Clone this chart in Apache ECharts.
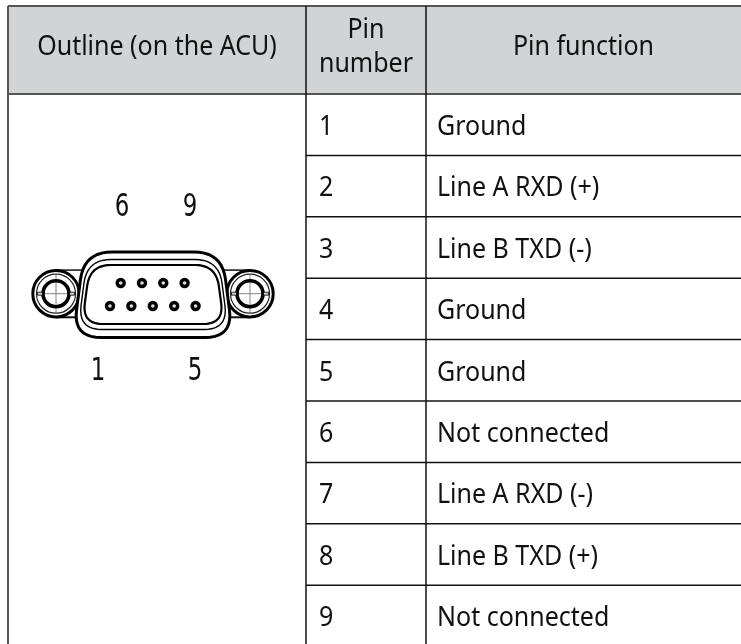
<!DOCTYPE html>
<html>
<head>
<meta charset="utf-8">
<style>
    html, body { margin: 0; padding: 0; background: #fff; }
    #chart { width: 741px; height: 644px; }
</style>
<script src="https://cdn.jsdelivr.net/npm/echarts@6/dist/echarts.min.js"></script>
</head>
<body>
<div id="chart"></div>
<script>
// table content
const headers = ['Outline (on the ACU)', 'Pin\nnumber', 'Pin function']
const pinNumbers = ['1', '2', '3', '4', '5', '6', '7', '8', '9']
const pinFunctions = [
    'Ground',
    'Line A RXD (+)',
    'Line B TXD (-)',
    'Ground',
    'Ground',
    'Not connected',
    'Line A RXD (-)',
    'Line B TXD (+)',
    'Not connected',
]
const outlineLabels = ['6', '9', '1', '5']

// layout, the axes run in picture units
const width = 741,
    height = 644,
    colX = [8, 306, 426, 741],
    topY = 6,
    headY = 94,
    rowH = 61.4
const font = '25px "Noto Sans"'
const lineColor = '#111',
    edgeColor = '#555',
    textColor = '#111'

// connector, symmetric around centerX
const centerX = 153,
    earY = 293.7,
    earDx = 97
const shells = [
    { top: 252, bottom: 337.5, topDx: 69, bottomDx: 80, r: 28, w: 3 },
    { top: 259.5, bottom: 329.5, topDx: 66, bottomDx: 75, r: 24, w: 1.4 },
    { top: 265, bottom: 324, topDx: 63, bottomDx: 71, r: 21, w: 2.2 },
]

const pinPos = (n) => (n <= 5 ? [110 + (n - 1) * 21.4, 306] : [120.7 + (n - 6) * 21.3, 283])
const labelPos = { 6: [122, 208], 9: [190, 208], 1: [98, 372], 5: [195, 372] }

// rounded polygon as plain points
const roundedPoints = (verts, r) => {
    const points = []
    verts.forEach((v, i) => {
        const prev = verts[(i + verts.length - 1) % verts.length],
            next = verts[(i + 1) % verts.length]
        const toward = (a, b) => {
            const d = Math.hypot(b[0] - a[0], b[1] - a[1])
            return [a[0] + ((b[0] - a[0]) / d) * r, a[1] + ((b[1] - a[1]) / d) * r]
        }
        const p0 = toward(v, prev),
            p1 = toward(v, next)
        for (let t = 0; t <= 1.001; t += 0.1) {
            const u = 1 - t
            points.push([
                u * u * p0[0] + 2 * u * t * v[0] + t * t * p1[0],
                u * u * p0[1] + 2 * u * t * v[1] + t * t * p1[1],
            ])
        }
    })
    return points
}

const line = (api, a, b, color, w) => {
    const p0 = api.coord(a),
        p1 = api.coord(b)
    return {
        type: 'line',
        shape: { x1: p0[0], y1: p0[1], x2: p1[0], y2: p1[1] },
        style: { stroke: color, lineWidth: w },
    }
}

// the source font is taller and narrower than Noto Sans, so stretch around the anchor
const text = (api, pos, str, align, fontStr, scaleX, scaleY) => {
    const p = api.coord(pos)
    return {
        type: 'text',
        x: p[0],
        y: p[1],
        scaleX: scaleX || 1,
        scaleY: scaleY || 1.1,
        style: {
            x: 0,
            y: 0,
            text: str,
            font: fontStr || font,
            fill: textColor,
            align: align,
            verticalAlign: 'middle',
            lineHeight: 31,
        },
    }
}

const renderHeader = (params, api) => {
    const i = params.dataIndex
    const children = []
    const p0 = api.coord([colX[i], topY]),
        p1 = api.coord([colX[i + 1], headY])
    children.push({
        type: 'rect',
        shape: { x: p0[0], y: p0[1], width: p1[0] - p0[0], height: p1[1] - p0[1] },
        style: { fill: '#d1d3d4' },
    })
    children.push(text(api, [(colX[i] + colX[i + 1]) / 2, 47], headers[i], 'center'))
    children.push(line(api, [colX[i], topY], [colX[i + 1], topY], edgeColor, 2))
    children.push(line(api, [colX[i], headY], [colX[i + 1], headY], edgeColor, 2))
    return { type: 'group', children }
}

const renderRow = (params, api) => {
    const i = params.dataIndex
    const y0 = headY + i * rowH
    const mid = y0 + rowH / 2 + 2.5
    const children = [
        text(api, [colX[1] + 13, mid], pinNumbers[i], 'left'),
        text(api, [colX[2] + 11, mid], pinFunctions[i], 'left'),
    ]
    if (i > 0) children.push(line(api, [colX[1], y0], [colX[3], y0], lineColor, 1.5))
    return { type: 'group', children }
}

const renderFrame = (params, api) => {
    return {
        type: 'group',
        children: [
            line(api, [colX[0], topY], [colX[0], height], edgeColor, 2),
            line(api, [colX[1], topY], [colX[1], height], lineColor, 1.5),
            line(api, [colX[2], topY], [colX[2], height], lineColor, 1.5),
        ],
    }
}

const renderEar = (api, cx) => {
    const c = api.coord([cx, earY])
    const ring = (r, w, color) => ({
        type: 'circle',
        shape: { cx: c[0], cy: c[1], r: r },
        style: { fill: 'none', stroke: color, lineWidth: w },
    })
    const tab = (dx) => ({
        type: 'rect',
        shape: { x: c[0] + dx - 2.5, y: c[1] - 1.5, width: 5, height: 3 },
        style: { fill: '#ccc', stroke: '#000', lineWidth: 0.8 },
    })
    return [
        ring(23.2, 3, '#000'),
        ring(19.5, 1.2, '#222'),
        line(api, [cx - 19, earY], [cx + 19, earY], '#777', 0.9),
        line(api, [cx, earY - 19], [cx, earY + 19], '#777', 0.9),
        ring(13, 3.6, '#000'),
        tab(-16),
        tab(16),
    ]
}

const renderConnector = (params, api) => {
    const children = []
    ;[-1, 1].forEach((side) => {
        const cx = centerX + side * earDx
        // flange edges between ear and shell
        children.push(line(api, [cx, earY - 23.6], [cx - side * 26, earY - 23.6], '#111', 1.5))
        children.push(line(api, [cx, earY + 23.6], [cx - side * 26, earY + 23.6], '#111', 2))
        children.push(...renderEar(api, cx))
    })
    shells.forEach((s) => {
        const verts = [
            [centerX - s.topDx, s.top],
            [centerX + s.topDx, s.top],
            [centerX + s.bottomDx, s.bottom],
            [centerX - s.bottomDx, s.bottom],
        ]
        children.push({
            type: 'polygon',
            shape: { points: roundedPoints(verts, s.r).map((p) => api.coord(p)) },
            style: { fill: s === shells[0] ? '#fff' : 'none', stroke: '#000', lineWidth: s.w },
        })
    })
    return { type: 'group', children }
}

const renderLabel = (params, api) => {
    const str = outlineLabels[params.dataIndex]
    return text(api, labelPos[str], str, 'center', '30px "Liberation Sans Narrow", "DejaVu Sans Condensed"', 0.85, 1.05)
}

const myChart = echarts.init(document.getElementById('chart'), null, { renderer: 'canvas' })
const option = {
    animation: false,
    backgroundColor: '#fff',
    grid: { left: 0, right: 0, top: 0, bottom: 0 },
    xAxis: { type: 'value', min: 0, max: width, show: false },
    yAxis: { type: 'value', min: 0, max: height, inverse: true, show: false },
    series: [
        { type: 'custom', silent: true, clip: false, z: 1, data: headers.map((h, i) => [i]), renderItem: renderHeader },
        { type: 'custom', silent: true, clip: false, z: 2, data: pinNumbers.map((p, i) => [i]), renderItem: renderRow },
        { type: 'custom', silent: true, clip: false, z: 3, data: [[0]], renderItem: renderFrame },
        { type: 'custom', silent: true, clip: false, z: 4, data: [[0]], renderItem: renderConnector },
        {
            type: 'scatter',
            silent: true,
            z: 5,
            symbol: 'circle',
            symbolSize: 7,
            itemStyle: { color: '#ddd', borderColor: '#000', borderWidth: 3.4, opacity: 1 },
            data: pinNumbers.map((p) => pinPos(Number(p))),
        },
        { type: 'custom', silent: true, clip: false, z: 6, data: outlineLabels.map((l, i) => [i]), renderItem: renderLabel },
    ],
}
myChart.setOption(option)
</script>
</body>
</html>
